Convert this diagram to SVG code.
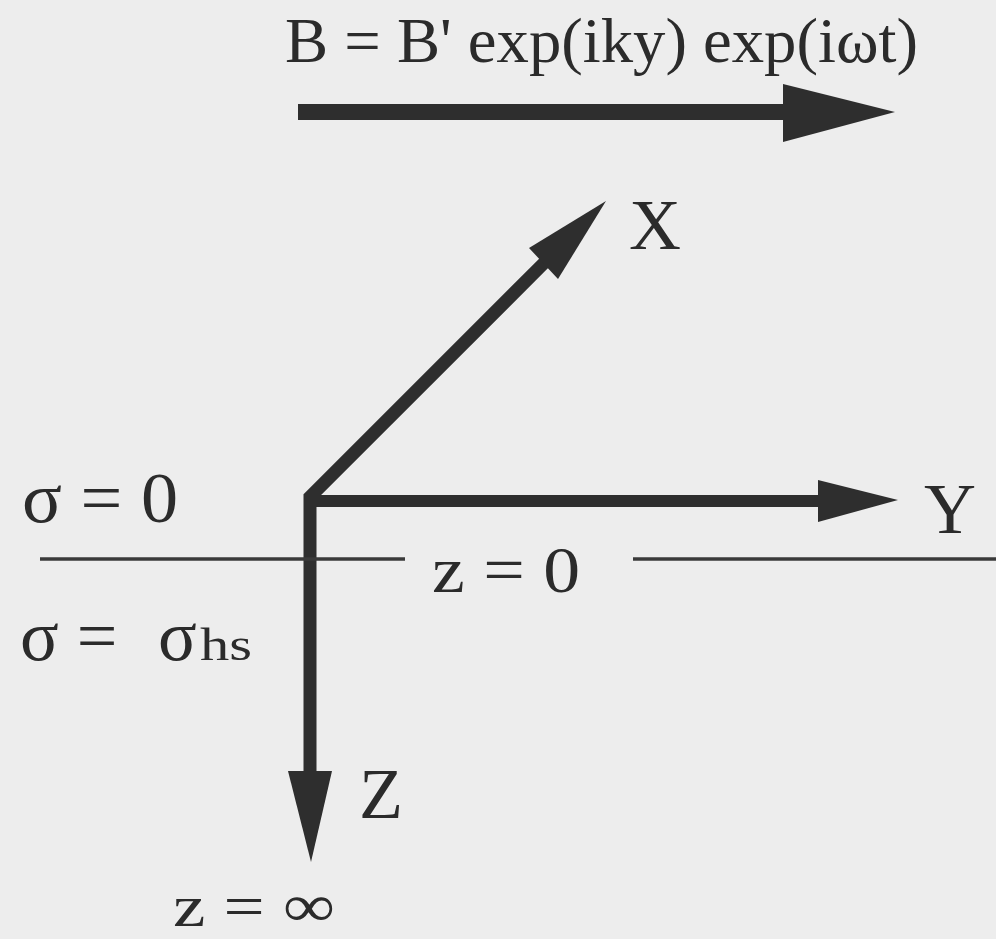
<svg xmlns="http://www.w3.org/2000/svg" width="996" height="939" viewBox="0 0 996 939">
<style>
  .t { font-family: "Liberation Serif", "DejaVu Serif", serif; fill: #2b2b2b; }
  .axis { fill: none; stroke: #2e2e2e; stroke-linejoin: miter; stroke-linecap: butt; }
  .head { fill: #2e2e2e; stroke: none; }
  .thin { stroke: #3a3a3a; stroke-width: 3.5; fill: none; }
</style>
<rect width="996" height="939" fill="#ededed"/>
<g id="connectors">
  <!-- B field arrow -->
  <line class="axis" x1="298" y1="112" x2="790" y2="112" stroke-width="16"/>
  <polygon class="head" points="783,84 895,112 783,142"/>
  <!-- X and Z axes sharing origin -->
  <polyline class="axis" points="547,260 310,497 310,776" stroke-width="13"/>
  <polygon class="head" points="606,201 558,279 529,248"/>
  <polygon class="head" points="288,771 332,771 311,862"/>
  <!-- Y axis -->
  <line class="axis" x1="306" y1="501" x2="822" y2="501" stroke-width="12"/>
  <polygon class="head" points="818,480 898,500 818,522"/>
  <!-- z = 0 surface line -->
  <line class="thin" x1="40" y1="559" x2="405" y2="559"/>
  <line class="thin" x1="633" y1="559" x2="996" y2="559"/>
</g>
<g id="label-B">
  <text class="t" x="285" y="62" font-size="63" textLength="633" lengthAdjust="spacingAndGlyphs">B = B' exp(iky) exp(iωt)</text>
</g>
<g id="label-X">
  <text class="t" x="629" y="249" font-size="72">X</text>
</g>
<g id="label-Y">
  <text class="t" x="924" y="533" font-size="72">Y</text>
</g>
<g id="label-Z">
  <text class="t" x="359" y="818" font-size="72">Z</text>
</g>
<g id="label-sigma0">
  <text class="t" x="22" y="522" font-size="72" textLength="156" lengthAdjust="spacingAndGlyphs">σ = 0</text>
</g>
<g id="label-z0">
  <text class="t" x="432" y="592" font-size="66" textLength="148" lengthAdjust="spacingAndGlyphs">z = 0</text>
</g>
<g id="label-sigmahs">
  <text class="t" x="20" y="660" font-size="72">σ =</text>
  <text class="t" x="158" y="660" font-size="72">σ</text>
  <text class="t" x="200" y="660" font-size="46" textLength="52" lengthAdjust="spacingAndGlyphs">hs</text>
</g>
<g id="label-zinf">
  <text class="t" x="173" y="926" font-size="60" textLength="162" lengthAdjust="spacingAndGlyphs">z = ∞</text>
</g>
</svg>
